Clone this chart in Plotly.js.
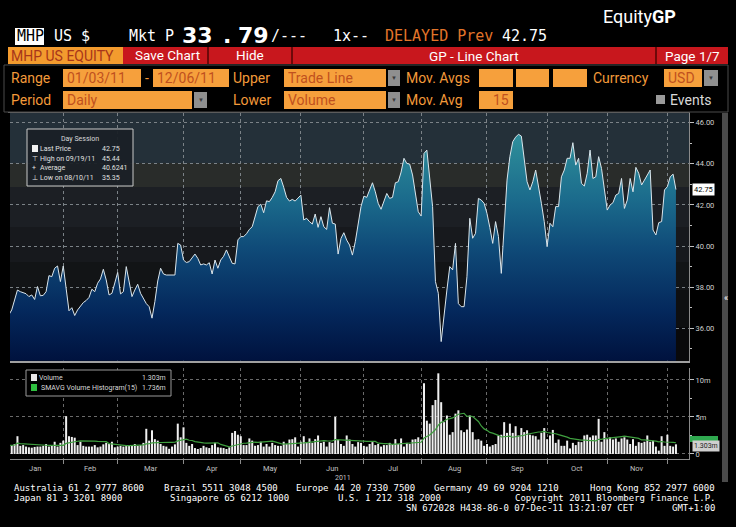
<!DOCTYPE html>
<html><head><meta charset="utf-8">
<script src="https://cdn.plot.ly/plotly-3.0.1.min.js"></script>
<style>html,body{margin:0;padding:0;background:#000;overflow:hidden}#chart{width:736px;height:527px}</style>
</head><body><div id="chart"></div>
<script>
// ---------------- DATA ----------------
const holidays = ['2011-01-17','2011-02-21','2011-04-22','2011-05-30','2011-07-04','2011-09-05','2011-11-24'];
const monthNames = ['Jan','Feb','Mar','Apr','May','Jun','Jul','Aug','Sep','Oct','Nov'];
const yearLabel = '2011';
// daily close, MHP US, 01/03/11 - 12/06/11
const price = [
36.50,36.65,36.89,37.40,37.86,37.78,37.72,37.68,37.54,37.62,
37.40,38.03,37.58,37.60,37.78,38.56,38.51,38.92,39.03,38.27,
39.03,38.00,36.85,37.00,36.62,36.89,37.10,37.25,37.35,37.50,
37.90,37.78,38.19,38.40,38.87,38.35,37.62,37.70,38.20,38.72,
37.67,37.78,39.00,38.19,37.54,37.86,38.14,37.70,37.46,37.20,
37.05,36.49,37.30,38.30,38.92,38.64,38.59,38.60,38.59,38.59,
40.13,40.05,39.32,39.20,39.24,39.40,39.61,39.40,39.08,39.13,
39.08,39.19,38.64,39.32,38.92,39.32,39.50,39.81,39.49,39.16,
39.13,40.30,40.46,40.46,40.60,40.81,40.94,41.43,41.92,42.04,
41.62,42.20,42.16,42.37,42.64,43.18,43.29,42.86,42.37,42.19,
42.27,42.19,42.35,42.48,41.27,41.35,41.19,41.07,41.56,40.91,
41.43,40.94,40.81,41.87,41.11,41.07,39.61,40.37,40.65,40.29,
40.05,39.56,40.21,41.02,41.92,42.43,42.37,42.73,43.08,42.64,
42.08,41.79,42.16,42.56,42.32,42.37,43.08,43.13,43.60,44.27,
44.02,43.99,43.46,42.64,41.67,41.46,44.51,44.67,43.37,41.92,
38.27,37.70,35.35,36.73,37.86,39.00,38.84,40.13,37.20,37.05,
37.05,38.51,41.35,40.38,40.62,42.32,42.24,42.08,41.59,40.90,
40.13,41.19,40.46,38.67,40.78,43.21,44.35,45.08,45.30,45.44,
45.35,44.18,43.13,42.73,43.13,43.70,42.97,42.08,41.19,39.97,
41.11,40.94,41.92,41.92,43.37,43.70,44.27,44.27,45.03,43.94,
44.27,43.05,42.92,43.54,44.67,43.29,43.37,44.35,43.78,42.73,
41.75,42.00,42.11,42.48,42.56,43.29,41.83,42.24,43.29,42.64,
43.83,43.54,42.97,43.21,43.46,43.70,40.78,40.54,41.14,41.19,
42.73,42.89,43.37,43.50,42.75];
// daily volume, millions of shares
const volumeM = [
1.20,1.10,1.20,1.35,2.40,1.10,1.20,1.00,0.90,0.85,
0.95,1.00,1.00,1.10,1.35,1.00,1.20,1.65,1.00,1.50,
1.80,5.10,2.40,2.30,2.20,1.20,1.65,1.10,1.00,1.00,
1.00,1.20,0.90,1.00,1.30,1.50,1.35,1.65,0.90,1.00,
1.10,1.00,1.10,1.10,1.20,1.35,1.10,1.20,1.50,3.40,
1.80,3.20,2.00,1.80,1.35,1.10,1.00,0.70,1.00,1.30,
4.10,2.25,3.60,1.50,1.10,1.35,0.80,0.67,0.80,1.10,
0.90,0.80,1.20,1.50,0.90,0.85,0.80,0.67,0.90,2.85,
3.10,2.60,2.40,1.20,1.20,2.10,1.80,1.10,1.20,1.65,
1.00,1.35,1.00,1.50,1.20,1.10,1.10,1.65,1.35,1.95,
2.00,2.25,1.00,1.65,2.40,1.60,2.10,1.50,2.00,2.50,
1.50,1.65,1.00,1.60,1.50,5.00,1.95,1.35,1.10,2.50,
1.95,1.35,1.00,1.60,1.50,1.10,1.00,1.35,1.60,1.20,
1.35,1.00,1.20,1.20,1.50,1.35,2.00,1.35,2.10,1.00,
1.50,1.35,1.95,2.00,2.25,1.95,9.55,4.50,4.10,6.60,
7.30,10.90,7.00,4.30,5.20,2.60,2.95,5.45,5.90,3.20,
2.95,3.30,5.20,2.95,1.95,2.00,1.80,1.10,1.35,1.00,
1.20,1.35,2.50,2.60,4.30,2.85,4.10,2.85,3.75,2.50,
3.50,2.95,3.20,2.60,2.50,2.40,1.95,2.85,3.50,2.00,
2.50,3.25,1.50,1.95,1.10,1.10,1.80,0.75,1.50,1.20,
1.65,1.60,2.50,2.60,2.25,2.50,2.50,4.75,1.65,2.95,
2.00,2.25,1.95,2.10,1.65,2.10,2.25,1.95,1.35,2.00,
1.10,1.60,1.50,1.65,2.50,1.65,1.80,1.00,0.45,2.40,
1.10,2.60,1.10,1.00,1.303];
const smaWindow = 15;
const priceTicks = [36,38,40,42,44,46];
const volTicks = [0,5,10];
const volTickText = ['0','5m','10m'];
const legendPrice = {last:'42.75', highDate:'09/19/11', high:'45.44', avg:'40.6241', lowDate:'08/10/11', low:'35.35'};
const legendVol = {last:'1.303m', sma:'1.736m'};
const lastPriceValue = 42.75;

// ---------------- derived ----------------
function tradingDays(){
  const out=[]; const d=new Date(Date.UTC(2011,0,3)); const end=Date.UTC(2011,11,6);
  while(d.getTime()<=end){
    const wd=d.getUTCDay(); const s=d.toISOString().slice(0,10);
    if(wd!==0&&wd!==6&&!holidays.includes(s)) out.push(s);
    d.setUTCDate(d.getUTCDate()+1);
  }
  return out;
}
const dates = tradingDays();
const idx = dates.map((_,i)=>i);
const monthStarts = [];
dates.forEach((d,i)=>{ if(i===0||d.slice(0,7)!==dates[i-1].slice(0,7)) monthStarts.push(i); });
const monthMids = monthNames.map((_,k)=>(monthStarts[k]+monthStarts[k+1])/2);
const sma = volumeM.map((_,i)=>{const s=Math.max(0,i-smaWindow+1); const w=volumeM.slice(s,i+1); return w.reduce((a,b)=>a+b,0)/w.length;});

// ---------------- layout helpers ----------------
const W=736,H=527;
const X=p=>p/W, Y=p=>1-p/H;
const F='Roboto,"Liberation Sans",sans-serif';
const MONO='"DejaVu Sans Mono","Liberation Mono",monospace';
function rect(x0,y0,x1,y1,fill,line,layer,lw){return {type:'rect',xref:'paper',yref:'paper',x0:X(x0),x1:X(x1),y0:Y(y1),y1:Y(y0),fillcolor:fill||'rgba(0,0,0,0)',line:{color:line||'rgba(0,0,0,0)',width:line?(lw||1):0},layer:layer||'above'};}
function hline(x0,x1,y,color,w){return {type:'line',xref:'paper',yref:'paper',x0:X(x0),x1:X(x1),y0:Y(y),y1:Y(y),line:{color,width:w||1},layer:'above'};}
function vline(x,y0,y1,color,w){return {type:'line',xref:'paper',yref:'paper',x0:X(x),x1:X(x),y0:Y(y0),y1:Y(y1),line:{color,width:w||1},layer:'above'};}
function txt(x,y,text,size,color,o){o=o||{};return Object.assign({xref:'paper',yref:'paper',x:X(x),y:Y(y),text,showarrow:false,xanchor:'left',yanchor:'middle',borderpad:0,font:{family:o.family||F,size,color}},o.extra||{});}

const ORANGE_BOX='#f6a03c', BOX_TXT='#c0501e', LBL='#f39a3a';
const shapes=[
  // header
  rect(15,28,44,45,'#ffffff'),
  rect(8,47,123,64,'#f39b2e'),
  rect(123,47,728,64,'#c8171d'),
  vline(208,47,64,'#6e0909',2), vline(292,47,64,'#6e0909',2), vline(656,47,64,'#6e0909',2),
  rect(4,65,728,112,null,'#4a4a4a'),
  rect(63,69,141,87,ORANGE_BOX), rect(153,69,229,87,ORANGE_BOX), rect(284,69,386,87,ORANGE_BOX),
  rect(479,69,513,87,ORANGE_BOX), rect(516,69,549,87,ORANGE_BOX), rect(553,69,587,87,ORANGE_BOX),
  rect(664,69,702,87,ORANGE_BOX),
  rect(388,70,400,86,'#8f8f8f'), rect(704,70,718,86,'#8f8f8f'),
  rect(63,91,192,109,ORANGE_BOX), rect(284,91,386,109,ORANGE_BOX), rect(479,91,513,109,ORANGE_BOX),
  rect(194,92,207,108,'#8f8f8f'), rect(388,92,400,108,'#8f8f8f'),
  rect(656,95,665,104,'#9a9a9a'),
  // price panel background bands
  rect(10,113,689,163,'#243039',null,'below'),
  rect(10,163,689,187,'#292c2a',null,'below'),
  rect(10,187,689,227,'#1c1f24',null,'below'),
  rect(10,227,689,262,'#17191d',null,'below'),
  rect(10,262,689,290,'#121416',null,'below'),
  rect(10,290,689,327,'#0e0f11',null,'below'),
  rect(10,327,689,361,'#09090b',null,'below'),
  hline(8,690,112.5,'#5c5c5c',1),
  // scrollbar
  rect(722,113,728,482,'#4a4a4a'),
  // price legend box
  rect(27,129,133,186,'rgba(26,32,38,0.95)','#c8c8c8'),
  rect(32,145,38,152,'#f2f2f2'),
  // volume legend box
  rect(26,370,171,396,'#000000','#9a9a9a'),
  rect(31,374,37,381,'#e8e8e8'), rect(31,384,37,391,'#2fbf3f'),
  // last volume tab
  rect(690,436,718,442,'#2fa84f')
];

const fs=14;
const H2=15;
const LG=7;
const annotations=[
  txt(602,16,'Equity<b>GP</b>',18,'#ffffff'),
  txt(16,36,'MHP',H2,'#000000',{family:MONO}), txt(53,36,'US $',H2,'#ffffff',{family:MONO}),
  txt(128,36,'Mkt P',H2,'#ffffff',{family:MONO}),
  txt(181,35,'<b>33</b>',22,'#ffffff',{family:'DejaVu Sans'}),
  txt(222,35,'<b>.</b>',22,'#ffffff',{family:'DejaVu Sans'}),
  txt(237,35,'<b>79</b>',22,'#ffffff',{family:'DejaVu Sans'}),
  txt(270,36,'/---',H2,'#ffffff',{family:MONO}), txt(332,36,'1x--',H2,'#ffffff',{family:MONO}),
  txt(384,36,'DELAYED Prev',H2,'#e3752a',{family:MONO}), txt(501,36,'42.75',H2,'#ffffff',{family:MONO}),
  txt(10,56,'MHP US EQUITY',14,'#a8361a'),
  txt(167,55,'Save Chart',13.5,'#ffffff',{extra:{xanchor:'center'}}),
  txt(250,55,'Hide',13.5,'#ffffff',{extra:{xanchor:'center'}}),
  txt(474,56,'GP - Line Chart',13.5,'#ffffff',{extra:{xanchor:'center'}}),
  txt(692,56,'Page 1/7',13.5,'#ffffff',{extra:{xanchor:'center'}}),
  txt(10,78,'Range',fs,LBL), txt(66,78,'01/03/11',fs,BOX_TXT), txt(144,78,'-',fs,LBL),
  txt(156,78,'12/06/11',fs,BOX_TXT), txt(232,78,'Upper',fs,LBL), txt(287,78,'Trade Line',fs,BOX_TXT),
  txt(394,78,'▼',6,'#3a3a3a',{extra:{xanchor:'center'}}),
  txt(405,78,'Mov. Avgs',fs,LBL), txt(592,78,'Currency',fs,LBL), txt(667,78,'USD',fs,BOX_TXT),
  txt(711,78,'▼',6,'#3a3a3a',{extra:{xanchor:'center'}}),
  txt(10,100,'Period',fs,LBL), txt(66,100,'Daily',fs,BOX_TXT),
  txt(200.5,100,'▼',6,'#3a3a3a',{extra:{xanchor:'center'}}),
  txt(232,100,'Lower',fs,LBL), txt(287,100,'Volume',fs,BOX_TXT),
  txt(394,100,'▼',6,'#3a3a3a',{extra:{xanchor:'center'}}),
  txt(405,100,'Mov. Avg',fs,LBL), txt(510,100,'15',fs,BOX_TXT,{extra:{xanchor:'right'}}),
  txt(669,100,'Events',fs,'#d8d8d8'),
  // price legend
  txt(80,139,'Day Session',LG,'#d8d8d8',{extra:{xanchor:'center'}}),
  txt(39,149,'Last Price',LG,'#e0e0e0'), txt(121,149,legendPrice.last,LG,'#e0e0e0',{extra:{xanchor:'right'}}),
  txt(31,159,'⊤',LG,'#e0e0e0'), txt(39,159,'High on '+legendPrice.highDate,LG,'#e0e0e0'), txt(121,159,legendPrice.high,LG,'#e0e0e0',{extra:{xanchor:'right'}}),
  txt(31,168,'+',LG,'#e0e0e0'), txt(39,168,'Average',LG,'#e0e0e0'), txt(128,168,legendPrice.avg,LG,'#e0e0e0',{extra:{xanchor:'right'}}),
  txt(31,178,'⊥',LG,'#e0e0e0'), txt(39,178,'Low on '+legendPrice.lowDate,LG,'#e0e0e0'), txt(121,178,legendPrice.low,LG,'#e0e0e0',{extra:{xanchor:'right'}}),
  // volume legend
  txt(38,378,'Volume',7,'#d8d8d8'), txt(167,378,legendVol.last,7,'#d8d8d8',{extra:{xanchor:'right'}}),
  txt(40,388,'SMAVG Volume Histogram(15)',7,'#d8d8d8'), txt(167,388,legendVol.sma,7,'#d8d8d8',{extra:{xanchor:'right'}}),
  // last price flag on axis
  {xref:'paper',yref:'y',x:X(692),y:lastPriceValue,text:'42.75',showarrow:false,xanchor:'left',yanchor:'middle',bgcolor:'#ffffff',borderpad:1,font:{family:F,size:7.5,color:'#000'}},
  {xref:'paper',yref:'paper',x:X(692),y:Y(446),text:legendVol.last,showarrow:false,xanchor:'left',yanchor:'middle',bgcolor:'#cfcfcf',borderpad:1,font:{family:F,size:7,color:'#222'}},
  txt(723,298,'«',9,'#ffffff'),
  txt(343,478,yearLabel,7,'#c0c0c0',{extra:{xanchor:'center'}}),
  // footer
  txt(13,488,'Australia 61 2 9777 8600',9,'#ffffff',{family:MONO}),
  txt(163,488,'Brazil 5511 3048 4500',9,'#ffffff',{family:MONO}),
  txt(295,488,'Europe 44 20 7330 7500',9,'#ffffff',{family:MONO}),
  txt(433,488,'Germany 49 69 9204 1210',9,'#ffffff',{family:MONO}),
  txt(716,488,'Hong Kong 852 2977 6000',9,'#ffffff',{family:MONO,extra:{xanchor:'right'}}),
  txt(13,498,'Japan 81 3 3201 8900',9,'#ffffff',{family:MONO}),
  txt(169,498,'Singapore 65 6212 1000',9,'#ffffff',{family:MONO}),
  txt(337,498,'U.S. 1 212 318 2000',9,'#ffffff',{family:MONO}),
  txt(716,498,'Copyright 2011 Bloomberg Finance L.P.',9,'#ffffff',{family:MONO,extra:{xanchor:'right'}}),
  txt(405,508,'SN 672028 H438-86-0 07-Dec-11 13:21:07 CET',9,'#ffffff',{family:MONO}),
  txt(716,508,'GMT+1:00',9,'#ffffff',{family:MONO,extra:{xanchor:'right'}})
];
// month labels under the volume axis
monthNames.forEach((m,k)=>annotations.push({xref:'x2',yref:'paper',x:monthMids[k],y:Y(468),text:m,showarrow:false,
  xanchor:'center',yanchor:'middle',font:{family:F,size:7.5,color:'#c0c0c0'}}));

const xr=[(10-6)/2.863,(689-6)/2.863];
const priceRange=[34.42,46.49];
const volRange=[-0.68,11.62];
const tickFont={family:F,size:7.5,color:'#cfcfcf'};

const traces=[
  {type:'scatter',mode:'lines',x:idx,y:price,text:dates,xaxis:'x',yaxis:'y',
   line:{color:'#dbe6ec',width:1},fill:'tozeroy',
   fillgradient:{type:'vertical',start:priceRange[0],stop:priceRange[1],
     colorscale:[[0,'#00123e'],[0.2,'#04285c'],[0.45,'#0f4a78'],[0.65,'#1b6b8c'],[0.85,'#2a8797'],[1,'#3c9eaa']]},
   hoverinfo:'skip'},
  {type:'bar',x:idx,y:volumeM,xaxis:'x2',yaxis:'y2',marker:{color:'#f0f0f0',line:{width:0}},hoverinfo:'skip'},
  {type:'scatter',mode:'lines',x:idx,y:sma,xaxis:'x2',yaxis:'y2',line:{color:'#3f9f3f',width:1.2},hoverinfo:'skip'}
];

const layout={
  width:W,height:H,margin:{l:0,r:0,t:0,b:0},
  paper_bgcolor:'#000000',plot_bgcolor:'rgba(0,0,0,0)',
  showlegend:false,bargap:0.3,
  xaxis:{domain:[X(10),X(689)],range:xr,anchor:'y',tickmode:'array',tickvals:monthStarts,showticklabels:false,ticks:'',
    showgrid:true,gridcolor:'#7b8287',griddash:'dot',gridwidth:1,zeroline:false,showline:true,linecolor:'#a0a0a0',linewidth:2},
  yaxis:{domain:[Y(360.7),Y(112.7)],range:priceRange,side:'right',anchor:'x',tickmode:'array',tickvals:priceTicks,
    ticktext:priceTicks.map(v=>v.toFixed(2)),ticks:'outside',ticklen:4,tickcolor:'#c0c0c0',tickfont:tickFont,
    minor:{dtick:1,tick0:35,ticks:'outside',ticklen:2,tickcolor:'#c0c0c0',showgrid:false},
    showgrid:true,gridcolor:'#7b8287',griddash:'dot',zeroline:false,showline:true,linecolor:'#8a8a8a',linewidth:1},
  xaxis2:{domain:[X(10),X(689)],range:xr,anchor:'y2',tickmode:'array',tickvals:monthStarts,showticklabels:false,
    ticks:'outside',ticklen:4,tickcolor:'#8a8a8a',showgrid:true,gridcolor:'#6a6a6a',griddash:'dot',zeroline:false,
    showline:true,linecolor:'#8a8a8a',linewidth:1},
  yaxis2:{domain:[Y(459),Y(368)],range:volRange,side:'right',anchor:'x2',tickmode:'array',tickvals:volTicks,ticktext:volTickText,
    ticks:'outside',ticklen:4,tickcolor:'#c0c0c0',tickfont:tickFont,
    minor:{dtick:2.5,tick0:0,ticks:'outside',ticklen:2,tickcolor:'#c0c0c0',showgrid:false},
    showgrid:true,gridcolor:'#6a6a6a',griddash:'dot',zeroline:false,showline:true,linecolor:'#8a8a8a',linewidth:1},
  shapes,annotations
};
Plotly.newPlot('chart',traces,layout,{displayModeBar:false,staticPlot:true});
</script></body></html>
